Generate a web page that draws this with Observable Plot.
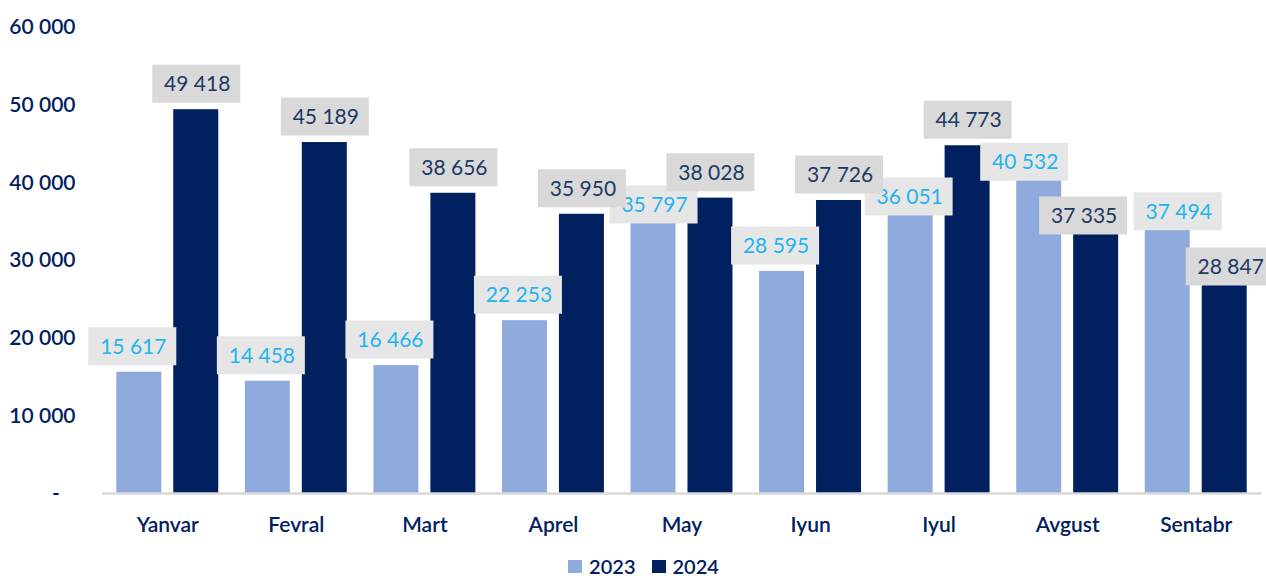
<!DOCTYPE html>
<html>
<head>
<meta charset="utf-8">
<script src="https://cdn.jsdelivr.net/npm/d3@7"></script>
<script src="https://cdn.jsdelivr.net/npm/@observablehq/plot@0.6"></script>
<style>
  html, body { margin: 0; padding: 0; background: #fff; overflow: hidden; }
  body { width: 1266px; height: 579px; font-family: Lato, "Open Sans", sans-serif; }
  #chart svg { display: block; }
  .legend { display: flex; justify-content: center; align-items: center; height: 32px; padding-left: 21px; font-size: 20px; font-weight: 600; color: #002060; }
  .legend .item { display: flex; align-items: center; margin: 0 8px; }
  .legend .sw { width: 14px; height: 13px; margin-right: 7px; }
</style>
</head>
<body>
<div id="chart"></div>
<div class="legend">
  <div class="item"><span class="sw" style="background:#8FAADC"></span><span>2023</span></div>
  <div class="item"><span class="sw" style="background:#002060"></span><span>2024</span></div>
</div>
<script>
const months = ["Yanvar", "Fevral", "Mart", "Aprel", "May", "Iyun", "Iyul", "Avgust", "Sentabr"];
const years = ["2023", "2024"];
const values2023 = [15617, 14458, 16466, 22253, 35797, 28595, 36051, 40532, 37494];
const values2024 = [49418, 45189, 38656, 35950, 38028, 37726, 44773, 37335, 28847];
const yTicks = [0, 10000, 20000, 30000, 40000, 50000, 60000];

const seriesColors = ["#8FAADC", "#002060"];
const labelText = {"2023": "#1FB4F0", "2024": "#203864"};
const labelBox = {"2023": "#E7E6E6", "2024": "#D9D9D9"};

// label placement tweaks (pixels) as in the original, where labels were moved to avoid overlaps
const labelNudge = {
  "May 2023": [0, 15],
  "Iyul 2023": [-2, 9],
  "Avgust 2023": [-15, 9],
  "Avgust 2024": [-13, 38],
  "Sentabr 2023": [10, 35],
  "Sentabr 2024": [5, 23]
};

const rows = years.flatMap(y => months.map((m, i) => ({
  month: m, year: y, value: (y === "2023" ? values2023 : values2024)[i]
})));

const fmt = v => v === 0 ? "-\u00A0\u00A0\u00A0" : d3.format(",")(v).replace(/,/g, " ");
const boxSymbol = {draw(ctx) { ctx.rect(-44, -19, 88, 38); }};

// 2023 labels first, 2024 labels on top (as in the original)
const labelMarks = rows.flatMap(d => {
  const key = d.month + " " + d.year;
  const [dx, dy] = labelNudge[key] || (d.year === "2023" ? [-7, 0] : [0, 0]);
  return [
    Plot.dot([d], {fx: "month", x: "year", y: "value", symbol: boxSymbol, fill: labelBox[d.year], stroke: null, dx, dy: dy - 26}),
    Plot.text([d], {fx: "month", x: "year", y: "value", text: r => fmt(r.value), dx: dx + 1, dy: dy - 25, fill: labelText[d.year], fontSize: 21, fontWeight: 400})
  ];
});

// layout: facet band padding, with the outer half-gap moved into the margins
const W = 1266, axisLeft = 103, axisRight = 1260;
const pInner = 0.207, pOuterFrac = 0.1035;
const step = (axisRight - axisLeft) / (months.length - pInner + 2 * pOuterFrac);
const outer = step * pOuterFrac;

const chart = Plot.plot({
  width: W,
  height: 550,
  marginLeft: axisLeft + outer,
  marginRight: W - axisRight + outer,
  marginTop: 27,
  marginBottom: 57,
  style: {fontFamily: "Lato, 'Open Sans', sans-serif", background: "transparent"},
  fx: {domain: months, paddingInner: pInner, paddingOuter: 0, round: false, axis: null, label: null},
  x: {domain: years, paddingInner: 0.21, paddingOuter: 0, round: false, axis: null},
  y: {domain: [0, 60000], axis: null},
  color: {domain: years, range: seriesColors},
  marks: [
    Plot.barY(rows, {fx: "month", x: "year", y: "value", fill: "year"}),
    Plot.frame({anchor: "bottom", facet: "super", stroke: "#D9D9D9", strokeWidth: 2.5, insetLeft: -outer, insetRight: -outer}),
    Plot.axisY(yTicks, {tickSize: 0, tickPadding: 28 + outer, tickFormat: fmt, fontSize: 21, fontWeight: 600, color: "#002060", label: null}),
    Plot.axisFx({anchor: "bottom", tickSize: 0, tickPadding: 24, fontSize: 21, fontWeight: 600, color: "#002060", label: null}),
    ...labelMarks
  ]
});
document.getElementById("chart").appendChild(chart);
</script>
</body>
</html>
